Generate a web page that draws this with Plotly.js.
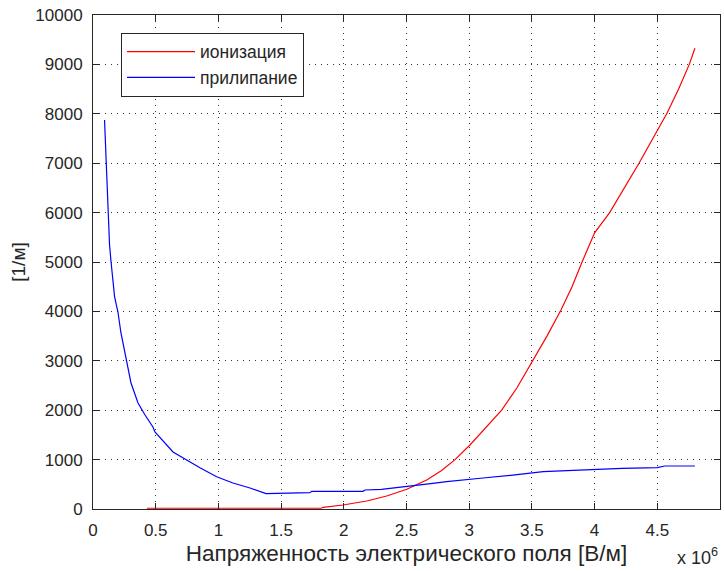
<!DOCTYPE html>
<html>
<head>
<meta charset="utf-8">
<script src="https://cdn.plot.ly/plotly-3.0.1.min.js"></script>
<style>
  html, body { margin: 0; padding: 0; background: #fff; }
  #chart { width: 724px; height: 571px; }
</style>
</head>
<body>
<div id="chart"></div>
<script>
// Field strength in units of 10^6 V/m, coefficients in 1/m
const ionField = [0.43, 1.0, 1.5, 1.82, 1.834, 1.994, 2.183, 2.342, 2.502, 2.661, 2.78, 2.887, 3.006, 3.14, 3.259, 3.38, 3.509, 3.62, 3.732, 3.82, 3.90, 4.0, 4.12, 4.24, 4.354, 4.46, 4.575, 4.67, 4.755, 4.8];
const ionCoef  = [15, 15, 15, 15, 34, 81, 162, 263, 399, 587, 780, 1000, 1296, 1666, 2000, 2450, 3000, 3500, 4030, 4500, 5000, 5590, 6000, 6500, 7000, 7480, 8000, 8500, 9000, 9326];

const attField = [0.092, 0.096, 0.104, 0.112, 0.12, 0.132, 0.144, 0.16, 0.172, 0.185, 0.199, 0.223, 0.263, 0.303, 0.359, 0.415, 0.478, 0.494, 0.638, 0.742, 0.853, 0.986, 1.116, 1.252, 1.38, 1.73, 1.744, 2.153, 2.169, 2.3, 2.42, 2.55, 2.71, 2.82, 2.93, 3.01, 3.11, 3.33, 3.48, 3.59, 3.78, 3.99, 4.22, 4.5, 4.56, 4.8];
const attCoef  = [7874, 7611, 6964, 6397, 5951, 5344, 5000, 4534, 4300, 4140, 3988, 3563, 3016, 2551, 2146, 1903, 1660, 1559, 1154, 992, 836, 654, 526, 425, 310, 330, 358, 358, 385, 399, 431, 472, 520, 553, 587, 601, 628, 682, 723, 755, 775, 804, 824, 836, 870, 870];

const seriesNames = ['ионизация', 'прилипание'];
const xTitle = 'Напряженность электрического поля [В/м]';
const yTitle = '[1/м]';
const xScaleNote = 'x 10<sup>6</sup>';

const FONT = 'Arial, "Liberation Sans", sans-serif';
const INK = '#262626';

const traces = [
  { x: ionField, y: ionCoef, name: seriesNames[0], type: 'scatter', mode: 'lines',
    line: { color: '#ff0000', width: 1.2 }, legendgroup: 'a' },
  { x: attField, y: attCoef, name: seriesNames[1], type: 'scatter', mode: 'lines',
    line: { color: '#0000ff', width: 1.2 }, legendgroup: 'b' }
];

const axisCommon = {
  showline: true, linecolor: INK, linewidth: 1, mirror: 'ticks',
  ticks: 'inside', ticklen: 6, tickcolor: INK, tickwidth: 1,
  showgrid: true, gridcolor: '#333', gridwidth: 1, griddash: '1px,5px',
  zeroline: false, tickfont: { family: FONT, size: 17, color: INK }
};

const layout = {
  width: 724, height: 571,
  margin: { l: 93, r: 4, t: 15, b: 62 },
  paper_bgcolor: '#fff', plot_bgcolor: '#fff',
  showlegend: true,
  legend: {
    x: 0.0447, y: 0.964, xanchor: 'left', yanchor: 'top',
    bgcolor: '#fff', bordercolor: INK, borderwidth: 1,
    font: { family: FONT, size: 17.5, color: INK },
    itemwidth: 68, tracegroupgap: 0
  },
  xaxis: Object.assign({}, axisCommon, {
    range: [0, 5], dtick: 0.5, tick0: 0,
    ticklabelstandoff: 6,
    title: { text: xTitle, font: { family: FONT, size: 22.5, color: INK }, standoff: 5 }
  }),
  yaxis: Object.assign({}, axisCommon, {
    range: [0, 10000], dtick: 1000, tick0: 0,
    tickformat: 'd', exponentformat: 'none', separatethousands: false,
    ticklabelstandoff: 6,
    title: { text: yTitle, font: { family: FONT, size: 19, color: INK }, standoff: 4 }
  }),
  annotations: [
    { text: xScaleNote, xref: 'paper', yref: 'paper', x: 1, y: 0,
      xanchor: 'right', yanchor: 'top', yshift: -34, showarrow: false,
      font: { family: FONT, size: 18, color: INK } }
  ]
};

Plotly.newPlot('chart', traces, layout, { displayModeBar: false, staticPlot: true });
</script>
</body>
</html>
